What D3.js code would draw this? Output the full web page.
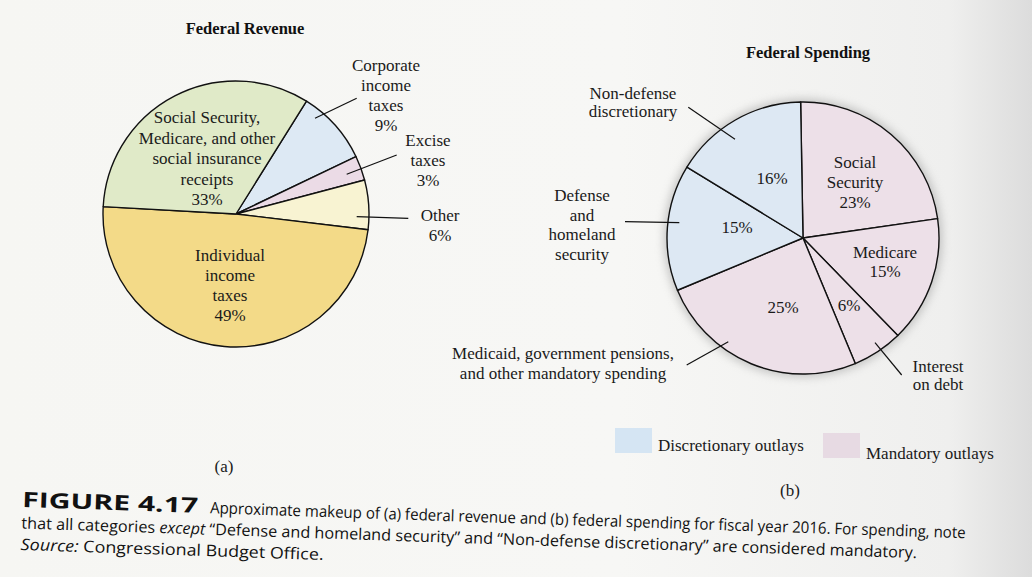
<!DOCTYPE html>
<html><head><meta charset="utf-8">
<script src="https://cdn.jsdelivr.net/npm/d3@7/dist/d3.min.js"></script>
<style>
html,body{margin:0;padding:0;background:#f7f6f3;}
svg{display:block;}
</style></head>
<body>
<svg id="chart" width="1032" height="577"></svg>
<script>
// ---------------- DATA ----------------
const revenueCategories = ["Corporate income taxes", "Excise taxes", "Other", "Individual income taxes", "Social Security, Medicare, and other social insurance receipts"];
const revenueValues = [9, 3, 6, 49, 33];
const revenueLabelLines = [["Corporate", "income", "taxes", "9%"], ["Excise", "taxes", "3%"], ["Other", "6%"], ["Individual", "income", "taxes", "49%"], ["Social Security,", "Medicare, and other", "social insurance", "receipts", "33%"]];

const spendingCategories = ["Social Security", "Medicare", "Interest on debt", "Medicaid, government pensions, and other mandatory spending", "Defense and homeland security", "Non-defense discretionary"];
const spendingValues = [23, 15, 6, 25, 15, 16];
const spendingTypes = ["Mandatory", "Mandatory", "Mandatory", "Mandatory", "Discretionary", "Discretionary"];
const spendingNameLines = [["Social", "Security", "23%"], ["Medicare", "15%"], ["Interest", "on debt"], ["Medicaid, government pensions,", "and other mandatory spending"], ["Defense", "and", "homeland", "security"], ["Non-defense", "discretionary"]];
const spendingPctLabels = [null, null, "6%", "25%", "15%", "16%"];

const legendTypes = ["Discretionary", "Mandatory"];
const legendLabels = ["Discretionary outlays", "Mandatory outlays"];

const titles = ["Federal Revenue", "Federal Spending"];
const panelLabels = ["(a)", "(b)"];
const captionLines = [
  ["FIGURE 4.17", "Approximate makeup of (a) federal revenue and (b) federal spending for fiscal year 2016. For spending, note"],
  [null, "that all categories <i>except</i> \u201cDefense and homeland security\u201d and \u201cNon-defense discretionary\u201d are considered mandatory."],
  [null, "<i>Source:</i> Congressional Budget Office."]
];

// ---------------- LAYOUT / STYLE ----------------
const svg = d3.select("#chart");
const SERIF = "'Liberation Serif','DejaVu Serif',serif";
const SANS = "'Open Sans','Noto Sans',sans-serif";
const deg = Math.PI / 180;

const defs = svg.append("defs");
const bg = defs.append("linearGradient").attr("id", "bg").attr("x1", 0).attr("x2", 1).attr("y1", 0).attr("y2", 0);
bg.append("stop").attr("offset", "0").attr("stop-color", "#f6f6f3");
bg.append("stop").attr("offset", "0.6").attr("stop-color", "#f7f7f5");
bg.append("stop").attr("offset", "0.92").attr("stop-color", "#efefee");
bg.append("stop").attr("offset", "1").attr("stop-color", "#dcdcdc");
svg.append("rect").attr("width", 1032).attr("height", 577).attr("fill", "url(#bg)");

const blur = defs.append("filter").attr("id", "shadow").attr("x", "-20%").attr("y", "-20%").attr("width", "140%").attr("height", "140%");
blur.append("feGaussianBlur").attr("stdDeviation", 5);

const revColor = d3.scaleOrdinal().domain(revenueCategories)
  .range(["#dde9f4", "#ebdbe6", "#f8f3d2", "#f3da88", "#e0eac8"]);
const typeColor = d3.scaleOrdinal().domain(legendTypes).range(["#dde8f3", "#ede0e8"]);
const legendColor = d3.scaleOrdinal().domain(legendTypes).range(["#d5e5f3", "#e7dae3"]);

function multiline(g, lines, x, y, lh, opts = {}) {
  const t = g.append("text").attr("x", x).attr("y", y)
    .attr("font-family", SERIF).attr("font-size", opts.size || 17)
    .attr("fill", "#1a1a1a").attr("text-anchor", opts.anchor || "middle");
  lines.forEach((l, i) => {
    t.append("tspan").attr("x", x).attr("y", y + i * lh).attr("dy", "0.35em").text(l);
  });
  return t;
}

// ---------------- REVENUE PIE ----------------
const rev = { cx: 236, cy: 214, r: 133, start: 32 };
const gRev = svg.append("g").attr("transform", `translate(${rev.cx},${rev.cy})`);
const pieRev = d3.pie().sort(null).value(d => d.v)
  .startAngle(rev.start * deg).endAngle((rev.start + 360) * deg);
const revData = pieRev(revenueCategories.map((c, i) => ({ c, v: revenueValues[i] })));
const arcRev = d3.arc().innerRadius(0).outerRadius(rev.r);
gRev.selectAll("path").data(revData).join("path")
  .attr("d", arcRev).attr("fill", d => revColor(d.data.c))
  .attr("stroke", "#111").attr("stroke-width", 1.4).attr("stroke-linejoin", "round");

const revLabelPos = [
  { x: 386, y: 65, lh: 20 }, { x: 428, y: 140, lh: 20 }, { x: 440, y: 215, lh: 20 },
  { x: 230, y: 255, lh: 20 }, { x: 207, y: 117, lh: 20.6 }
];
revLabelPos.forEach((p, i) => multiline(svg, revenueLabelLines[i], p.x, p.y, p.lh));
const revLeaders = [
  [[120.7, -115.7], [79, -95.7]], [[160.7, -59], [110.7, -39.7]], [[172.3, 4.3], [120.7, 2.7]]
];
revLeaders.forEach(l => gRev.append("line")
  .attr("x1", l[0][0]).attr("y1", l[0][1]).attr("x2", l[1][0]).attr("y2", l[1][1])
  .attr("stroke", "#111").attr("stroke-width", 1.2));

svg.append("text").attr("x", 245).attr("y", 28).attr("dy", "0.35em").attr("text-anchor", "middle")
  .attr("font-family", SERIF).attr("font-weight", "bold").attr("font-size", 16.5).attr("fill", "#111")
  .text(titles[0]);

// ---------------- SPENDING PIE ----------------
const spd = { cx: 803, cy: 238, r: 136, start: -1 };
const gSpd = svg.append("g").attr("transform", `translate(${spd.cx},${spd.cy})`);
gSpd.append("circle").attr("r", spd.r + 3).attr("fill", "#9a9a9a").attr("opacity", 0.55).attr("filter", "url(#shadow)");
const pieSpd = d3.pie().sort(null).value(d => d.v)
  .startAngle(spd.start * deg).endAngle((spd.start + 360) * deg);
const spdData = pieSpd(spendingCategories.map((c, i) => ({ c, v: spendingValues[i], t: spendingTypes[i] })));
const arcSpd = d3.arc().innerRadius(0).outerRadius(spd.r);
gSpd.selectAll("path.slice").data(spdData).join("path").attr("class", "slice")
  .attr("d", arcSpd).attr("fill", d => typeColor(d.data.t))
  .attr("stroke", "#111").attr("stroke-width", 1.4).attr("stroke-linejoin", "round");

const spdNamePos = [
  { x: 855, y: 162, lh: 20 }, { x: 885, y: 252, lh: 19.5 }, { x: 938, y: 366, lh: 18.5 },
  { x: 563, y: 353, lh: 20 }, { x: 582, y: 195, lh: 19.7 }, { x: 633, y: 93, lh: 18.5 }
];
spdNamePos.forEach((p, i) => multiline(svg, spendingNameLines[i], p.x, p.y, p.lh));
const spdPctPos = [null, null, { x: 849, y: 305 }, { x: 783, y: 307 }, { x: 737, y: 227 }, { x: 772, y: 178 }];
spdPctPos.forEach((p, i) => { if (p && spendingPctLabels[i]) multiline(svg, [spendingPctLabels[i]], p.x, p.y, 0); });
const spdLeaders = [
  [[-114.7, -130.7], [-68, -98.7]], [[-178, -16.3], [-123.7, -15.3]],
  [[-116.3, 127], [-74.7, 103.7]], [[98.7, 137], [72, 104.7]]
];
spdLeaders.forEach(l => gSpd.append("line")
  .attr("x1", l[0][0]).attr("y1", l[0][1]).attr("x2", l[1][0]).attr("y2", l[1][1])
  .attr("stroke", "#111").attr("stroke-width", 1.2));

svg.append("text").attr("x", 808).attr("y", 52).attr("dy", "0.35em").attr("text-anchor", "middle")
  .attr("font-family", SERIF).attr("font-weight", "bold").attr("font-size", 16.5).attr("fill", "#111")
  .text(titles[1]);

// ---------------- LEGEND ----------------
const legendPos = [{ x: 615, y: 428, tx: 658, ty: 445 }, { x: 823, y: 433, tx: 866, ty: 453 }];
legendTypes.forEach((t, i) => {
  const p = legendPos[i];
  svg.append("rect").attr("x", p.x).attr("y", p.y).attr("width", 37).attr("height", 25).attr("fill", legendColor(t));
  multiline(svg, [legendLabels[i]], p.tx, p.ty, 0, { anchor: "start" });
});

multiline(svg, [panelLabels[0]], 224, 466, 0);
multiline(svg, [panelLabels[1]], 790, 490, 0);

// ---------------- CAPTION ----------------
const capY = 507;
const cap = svg.append("g").attr("transform", `rotate(1.9,22,${capY})`);
cap.append("text").attr("x", 22).attr("y", capY).attr("font-family", SANS).attr("font-weight", "bold")
  .attr("font-size", 21).attr("fill", "#111").attr("textLength", 176).attr("lengthAdjust", "spacingAndGlyphs")
  .text(captionLines[0][0]);
const capLens = [756, 896, 303];
const capX = [210, 22, 22];
captionLines.forEach((l, i) => {
  const t = cap.append("text").attr("x", capX[i]).attr("y", capY + i * 21.5)
    .attr("font-family", SANS).attr("font-size", 16).attr("fill", "#111")
    .attr("textLength", capLens[i]).attr("lengthAdjust", "spacingAndGlyphs");
  const parts = l[1].split(/(<i>.*?<\/i>)/);
  parts.forEach(pt => {
    if (!pt) return;
    if (pt.startsWith("<i>")) t.append("tspan").attr("font-style", "italic").text(pt.replace(/<\/?i>/g, ""));
    else t.append("tspan").text(pt);
  });
});
</script>
</body></html>
